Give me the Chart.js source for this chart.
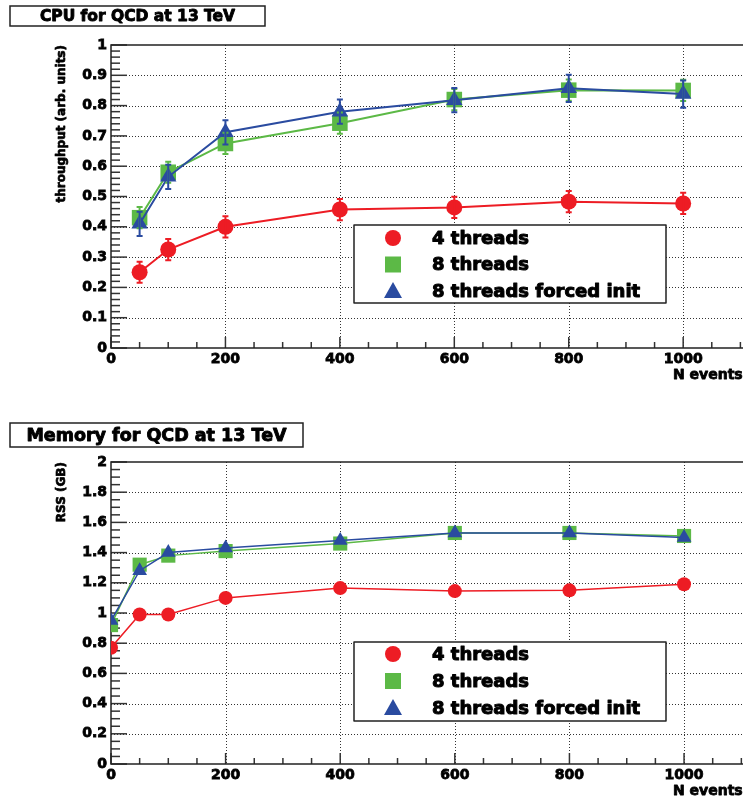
<!DOCTYPE html>
<html>
<head>
<meta charset="utf-8">
<script src="https://cdn.jsdelivr.net/npm/chart.js@4.4.1/dist/chart.umd.min.js"></script>
<style>
  html, body { margin: 0; padding: 0; background: #fff; overflow: hidden; width: 743px; height: 799px; }
  canvas { position: absolute; left: 0; }
  #cpuChart { top: 0; }
  #memChart { top: 400px; }
</style>
</head>
<body>
<canvas id="cpuChart" width="780" height="400"></canvas>
<canvas id="memChart" width="780" height="399"></canvas>
<script>
// series names
const seriesNames = ['4 threads', '8 threads', '8 threads forced init'];

// CPU throughput vs number of events
const cpuEvents = [50, 100, 200, 400, 600, 800, 1000];
const cpu4 = [0.25, 0.325, 0.40, 0.457, 0.464, 0.483, 0.477];
const cpu8 = [0.43, 0.58, 0.675, 0.742, 0.82, 0.851, 0.85];
const cpu8init = [0.41, 0.565, 0.712, 0.78, 0.818, 0.857, 0.838];
const cpuErr4 = [0.035, 0.035, 0.035, 0.035, 0.035, 0.035, 0.035];
const cpuErr8 = [0.035, 0.035, 0.035, 0.035, 0.035, 0.035, 0.035];
const cpuErr8init = [0.04, 0.04, 0.04, 0.04, 0.04, 0.045, 0.045];
const cpuXTicks = [0, 200, 400, 600, 800, 1000];
const cpuYTicks = [0, 0.1, 0.2, 0.3, 0.4, 0.5, 0.6, 0.7, 0.8, 0.9, 1];

// memory (RSS) vs number of events
const memEvents = [0, 50, 100, 200, 400, 600, 800, 1000];
const mem4 = [0.77, 0.99, 0.99, 1.10, 1.165, 1.145, 1.15, 1.19];
const mem8 = [0.92, 1.32, 1.38, 1.41, 1.46, 1.53, 1.53, 1.51];
const mem8init = [0.95, 1.28, 1.40, 1.43, 1.48, 1.53, 1.53, 1.50];
const memXTicks = [0, 200, 400, 600, 800, 1000];
const memYTicks = [0, 0.2, 0.4, 0.6, 0.8, 1, 1.2, 1.4, 1.6, 1.8, 2];

const RED = '#ed1c24', GREEN = '#5cb946', BLUE = '#2a4ba0';
const FONT = 'DejaVu Sans';

function fmt(v) { return String(Number(v.toFixed(2))); }

// heavy text like the ROOT bold font
function heavyText(ctx, s, x, y, w) {
  ctx.lineWidth = w;
  ctx.strokeStyle = ctx.fillStyle;
  ctx.lineJoin = 'round';
  ctx.strokeText(s, x, y);
  ctx.fillText(s, x, y);
}

// ROOT-like frame: dotted grid, inner ticks, error bars, legend, title boxes
const rootStyle = {
  id: 'rootStyle',
  beforeDatasetsDraw(chart, args, o) {
    const { ctx, chartArea: a, scales: { x, y } } = chart;
    ctx.save();
    ctx.strokeStyle = '#333';
    ctx.lineWidth = 1;
    ctx.setLineDash([1, 2]);
    o.xTicks.forEach(v => {
      if (v === x.min) return;
      const px = Math.round(x.getPixelForValue(v)) + 0.5;
      ctx.beginPath(); ctx.moveTo(px, a.top); ctx.lineTo(px, a.bottom); ctx.stroke();
    });
    o.yTicks.forEach(v => {
      if (v === y.min || v === y.max) return;
      const py = Math.round(y.getPixelForValue(v)) + 0.5;
      ctx.beginPath(); ctx.moveTo(a.left, py); ctx.lineTo(a.right, py); ctx.stroke();
    });
    ctx.setLineDash([]);
    ctx.strokeStyle = '#333';
    ctx.lineWidth = 1.5;
    // x ticks
    let n = Math.round((x.max - x.min) / o.xMinor);
    for (let i = 0; i < n; i++) {
      const v = x.min + i * o.xMinor;
      const major = Math.abs(v / o.xMajor - Math.round(v / o.xMajor)) < 1e-6;
      const px = x.getPixelForValue(v);
      ctx.beginPath(); ctx.moveTo(px, a.bottom); ctx.lineTo(px, a.bottom - (major ? 11 : 6)); ctx.stroke();
    }
    // y ticks
    n = Math.round((y.max - y.min) / o.yMinor);
    for (let i = 0; i <= n; i++) {
      const v = y.min + i * o.yMinor;
      const major = Math.abs(v / o.yMajor - Math.round(v / o.yMajor)) < 1e-6;
      const py = y.getPixelForValue(v);
      ctx.beginPath(); ctx.moveTo(a.left, py); ctx.lineTo(a.left + (major ? 16 : 9), py); ctx.stroke();
    }
    // frame: top, left, bottom (right side lies outside the page)
    ctx.strokeStyle = '#222';
    ctx.lineWidth = 1.5;
    ctx.beginPath();
    ctx.moveTo(a.right, a.top); ctx.lineTo(a.left, a.top);
    ctx.lineTo(a.left, a.bottom); ctx.lineTo(a.right, a.bottom);
    ctx.stroke();
    ctx.restore();
  },
  afterDatasetsDraw(chart, args, o) {
    const { ctx, scales: { x, y } } = chart;
    ctx.save();
    chart.data.datasets.forEach(ds => {
      if (!ds.errors) return;
      ctx.strokeStyle = ds.borderColor;
      ctx.lineWidth = 2;
      ds.data.forEach((p, i) => {
        const px = x.getPixelForValue(p.x);
        const y1 = y.getPixelForValue(p.y - ds.errors[i]);
        const y2 = y.getPixelForValue(p.y + ds.errors[i]);
        ctx.beginPath();
        ctx.moveTo(px, y1); ctx.lineTo(px, y2);
        ctx.moveTo(px - 3, y1); ctx.lineTo(px + 3, y1);
        ctx.moveTo(px - 3, y2); ctx.lineTo(px + 3, y2);
        ctx.stroke();
      });
    });
    ctx.restore();
  },
  afterDraw(chart, args, o) {
    const ctx = chart.ctx;
    ctx.save();
    // title box
    const t = o.title;
    ctx.fillStyle = '#fff';
    ctx.fillRect(t.x, t.y, t.w, t.h);
    ctx.strokeStyle = '#222';
    ctx.lineWidth = 1.5;
    ctx.strokeRect(t.x, t.y, t.w, t.h);
    ctx.fillStyle = '#000';
    ctx.font = 'bold ' + t.size + 'px "' + FONT + '"';
    ctx.textAlign = 'center';
    ctx.textBaseline = 'middle';
    heavyText(ctx, t.text, t.x + t.w / 2, t.y + t.h / 2 + 1, 0.9);
    // legend box
    const l = o.legend;
    ctx.fillStyle = '#fff';
    ctx.fillRect(l.x, l.y, l.w, l.h);
    ctx.strokeStyle = '#222';
    ctx.lineWidth = 1.5;
    ctx.strokeRect(l.x, l.y, l.w, l.h);
    chart.data.datasets.forEach((ds, row) => {
      const cy = l.y + l.rowTop + row * l.rowGap;
      const style = ds.pointStyle;
      ctx.fillStyle = ds.backgroundColor;
      if (style === 'circle') {
        ctx.beginPath(); ctx.arc(l.markX, cy, 8, 0, Math.PI * 2); ctx.fill();
      } else if (style === 'rect') {
        ctx.fillRect(l.markX - 8, cy - 8, 16, 16);
      } else {
        ctx.beginPath();
        ctx.moveTo(l.markX, cy - 9); ctx.lineTo(l.markX + 9, cy + 7); ctx.lineTo(l.markX - 9, cy + 7);
        ctx.closePath(); ctx.fill();
      }
      ctx.fillStyle = '#000';
      ctx.font = 'bold 18px "' + FONT + '"';
      ctx.textAlign = 'left';
      ctx.textBaseline = 'middle';
      heavyText(ctx, ds.label, l.textX, cy + 1, 1);
    });
    // axis titles
    ctx.font = 'bold 12px "' + FONT + '"';
    ctx.fillStyle = '#000';
    ctx.save();
    ctx.translate(62, chart.chartArea.top);
    ctx.rotate(-Math.PI / 2);
    ctx.textAlign = 'right';
    ctx.textBaseline = 'middle';
    heavyText(ctx, o.yTitle, 0, 0, 0.7);
    ctx.restore();
    ctx.font = 'bold 14px "' + FONT + '"';
    ctx.textAlign = 'left';
    ctx.textBaseline = 'middle';
    heavyText(ctx, o.xTitle, 673, chart.chartArea.bottom + 27, 0.8);
    ctx.restore();
  }
};

function makeChart(id, cfg) {
  const mk = (label, xs, ys, errs, color, style, r, order) => ({
    label: label,
    data: xs.map((v, i) => ({ x: v, y: ys[i] })),
    errors: errs,
    borderColor: color,
    backgroundColor: color,
    pointBackgroundColor: color,
    pointBorderWidth: 0,
    pointStyle: style,
    pointRadius: r,
    pointHoverRadius: r,
    borderWidth: cfg.lineWidth,
    tension: 0,
    order: order
  });
  const tickFont = { family: FONT, weight: 'bold', size: 14 };
  return new Chart(document.getElementById(id), {
    type: 'line',
    data: {
      datasets: [
        mk(seriesNames[0], cfg.xs, cfg.s4, cfg.e4, RED, 'circle', cfg.r[0], 3),
        mk(seriesNames[1], cfg.xs, cfg.s8, cfg.e8, GREEN, 'rect', cfg.r[1], 2),
        mk(seriesNames[2], cfg.xs, cfg.s8i, cfg.e8i, BLUE, 'triangle', cfg.r[2], 1)
      ]
    },
    options: {
      responsive: false,
      animation: false,
      devicePixelRatio: 1,
      layout: { padding: { left: 0, right: 5, top: cfg.padTop, bottom: cfg.padBottom } },
      plugins: {
        legend: { display: false },
        tooltip: { enabled: false },
        rootStyle: cfg.style
      },
      scales: {
        x: {
          type: 'linear',
          min: 0,
          max: 1150,
          grid: { display: false, drawTicks: false },
          border: { display: false },
          afterBuildTicks: s => { s.ticks = cfg.xTicks.map(v => ({ value: v })); },
          afterFit: s => { s.height = 30; },
          ticks: {
            autoSkip: false, maxRotation: 0, padding: 3, color: '#000',
            textStrokeColor: '#000', textStrokeWidth: 0.8,
            font: tickFont,
            callback: v => fmt(v)
          }
        },
        y: {
          min: cfg.yTicks[0],
          max: cfg.yTicks[cfg.yTicks.length - 1],
          grid: { display: false, drawTicks: false },
          border: { display: false },
          afterBuildTicks: s => { s.ticks = cfg.yTicks.map(v => ({ value: v })); },
          afterFit: s => { s.width = 111; },
          ticks: {
            autoSkip: false, padding: 4, color: '#000',
            textStrokeColor: '#000', textStrokeWidth: 0.8,
            font: tickFont,
            callback: v => fmt(v)
          }
        }
      }
    },
    plugins: [rootStyle]
  });
}

makeChart('cpuChart', {
  xs: cpuEvents, s4: cpu4, s8: cpu8, s8i: cpu8init,
  e4: cpuErr4, e8: cpuErr8, e8i: cpuErr8init,
  xTicks: cpuXTicks, yTicks: cpuYTicks,
  r: [8, 11, 9.5], lineWidth: 2,
  padTop: 45, padBottom: 22,
  style: {
    xTicks: cpuXTicks, yTicks: cpuYTicks, xMajor: 200, xMinor: 50, yMajor: 0.1, yMinor: 0.02,
    title: { text: 'CPU for QCD at 13 TeV', x: 10, y: 6, w: 255, h: 20, size: 15.5 },
    legend: { x: 354, y: 225, w: 312, h: 78, rowTop: 13, rowGap: 26.5, markX: 393, textX: 432 },
    yTitle: 'throughput (arb. units)', xTitle: 'N events'
  }
});

makeChart('memChart', {
  xs: memEvents, s4: mem4, s8: mem8, s8i: mem8init,
  e4: null, e8: null, e8i: null,
  xTicks: memXTicks, yTicks: memYTicks,
  r: [7, 10, 8.5], lineWidth: 1.5,
  padTop: 62, padBottom: 5,
  style: {
    xTicks: memXTicks, yTicks: memYTicks, xMajor: 200, xMinor: 50, yMajor: 0.2, yMinor: 0.05,
    title: { text: 'Memory for QCD at 13 TeV', x: 10, y: 23, w: 293, h: 24, size: 17.5 },
    legend: { x: 354, y: 242, w: 312, h: 79, rowTop: 12, rowGap: 27, markX: 393, textX: 432 },
    yTitle: 'RSS (GB)', xTitle: 'N events'
  }
});
</script>
</body>
</html>
